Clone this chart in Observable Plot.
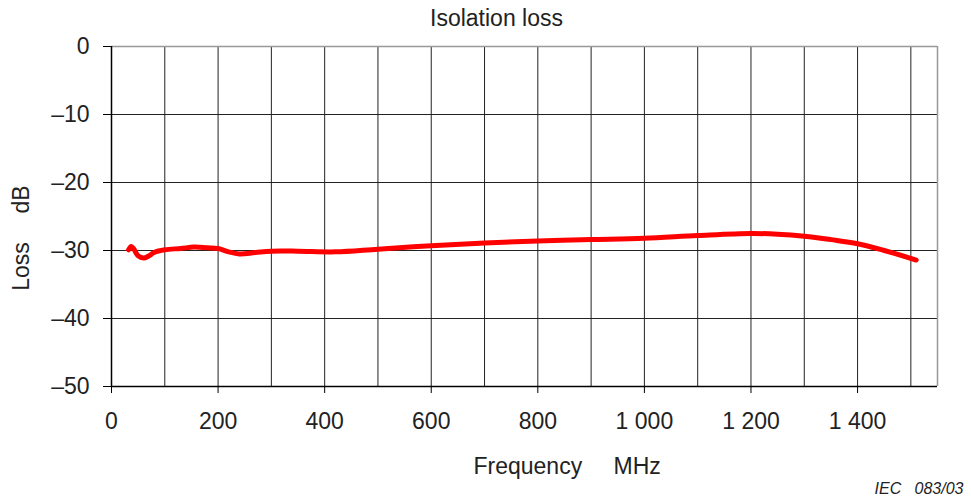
<!DOCTYPE html>
<html>
<head>
<meta charset="utf-8">
<script src="https://cdn.jsdelivr.net/npm/d3@7"></script>
<script src="https://cdn.jsdelivr.net/npm/@observablehq/plot@0.6"></script>
<style>
  html, body { margin: 0; padding: 0; background: #fff; }
  svg { display: block; }
</style>
</head>
<body>
<div id="chart"></div>
<script>
const frequency = [32, 37, 42, 50, 60, 70, 80, 100, 130, 155, 180, 200, 220, 240, 270, 300, 350, 420, 500, 600, 700, 800, 900, 1000, 1100, 1200, 1250, 1300, 1350, 1400, 1450, 1510];
const loss = [-29.9, -29.4, -29.8, -30.8, -31.1, -30.8, -30.3, -29.9, -29.7, -29.5, -29.6, -29.7, -30.2, -30.5, -30.3, -30.1, -30.1, -30.2, -29.8, -29.3, -28.9, -28.6, -28.4, -28.2, -27.8, -27.5, -27.6, -27.9, -28.4, -29.0, -30.0, -31.4];
const xTicks = [0, 200, 400, 600, 800, 1000, 1200, 1400];
const xGrid = [100, 200, 300, 400, 500, 600, 700, 800, 900, 1000, 1100, 1200, 1300, 1400, 1500];
const yTicks = [0, -10, -20, -30, -40, -50];
const title = "Isolation loss";
const xLabel = ["Frequency", "MHz"];
const yLabel = ["Loss", "dB"];
const caption = "IEC\u00a0\u00a0\u00a0083/03";

const data = frequency.map((f, i) => ({f, v: loss[i]}));
const font = "'Liberation Sans', Arial, sans-serif";
const fmtX = d => d >= 1000 ? String(d).replace(/(\d)(\d{3})$/, "$1 $2") : String(d);
const fmtY = d => d < 0 ? "\u2013" + Math.abs(d) : String(d);
const fs = 23;
const txt = {fontSize: fs, fill: "#222", lineAnchor: "middle"};

const chart = Plot.plot({
  width: 971,
  height: 502,
  marginLeft: 111,
  marginRight: 34,
  marginTop: 46,
  marginBottom: 116,
  style: {fontFamily: font, color: "#222", background: "#fff"},
  x: {domain: [0, 1550]},
  y: {domain: [-50, 0]},
  marks: [
    Plot.gridX(xGrid, {stroke: "#222", strokeOpacity: 1, strokeWidth: 1}),
    Plot.gridY(yTicks, {stroke: "#222", strokeOpacity: 1, strokeWidth: 1}),
    Plot.ruleY([0], {stroke: "#999", strokeWidth: 1.5}),
    Plot.ruleX([1550], {stroke: "#999", strokeWidth: 1.5}),
    Plot.ruleX([0], {stroke: "#000", strokeWidth: 1.5}),
    Plot.ruleY([-50], {stroke: "#000", strokeWidth: 1.5}),
    Plot.axisX(xTicks, {tickSize: 7, tickPadding: 19, tickFormat: fmtX, fontSize: fs, stroke: "#000", fill: "#222", label: null}),
    Plot.axisY(yTicks, {tickSize: 8, tickPadding: 14, tickFormat: fmtY, fontSize: fs, stroke: "#000", fill: "#222", label: null}),
    Plot.line(data, {x: "f", y: "v", stroke: "#ff0000", strokeWidth: 5, curve: "catmull-rom"}),
    Plot.text([title], {...txt, frameAnchor: "top", textAnchor: "middle", dx: -28, dy: -28}),
    Plot.text([xLabel[0]], {...txt, frameAnchor: "bottom", textAnchor: "start", dx: -51, dy: 80}),
    Plot.text([xLabel[1]], {...txt, frameAnchor: "bottom", textAnchor: "start", dx: 89, dy: 80}),
    Plot.text([yLabel[0]], {...txt, frameAnchor: "left", textAnchor: "middle", rotate: -90, dx: -90, dy: 50}),
    Plot.text([yLabel[1]], {...txt, frameAnchor: "left", textAnchor: "middle", rotate: -90, dx: -90, dy: -17}),
    Plot.text([caption], {...txt, frameAnchor: "bottom-right", textAnchor: "end", dx: 26, dy: 102, fontSize: 16, fontStyle: "italic"})
  ]
});
document.getElementById("chart").appendChild(chart);
</script>
</body>
</html>
